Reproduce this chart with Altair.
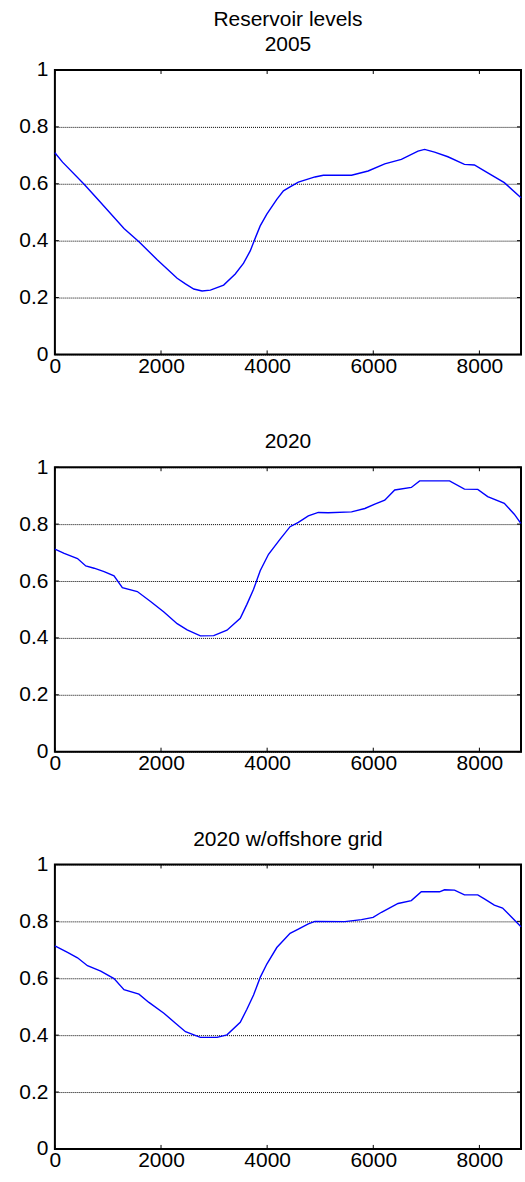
import altair as alt
import pandas as pd

# ---- data ----
hours_2005 = [0, 144, 551, 833, 1302, 1584, 1928, 2304, 2460, 2617, 2773, 2930, 3180, 3399,
              3556, 3681, 3756, 3869, 3994, 4182, 4307, 4432, 4588, 4901, 5058, 5590, 5903,
              6216, 6529, 6843, 6967, 7155, 7406, 7718, 7906, 8094, 8469, 8784]
level_2005 = [0.709, 0.676, 0.598, 0.540, 0.443, 0.396, 0.333, 0.268, 0.248, 0.230, 0.223,
              0.226, 0.244, 0.283, 0.321, 0.364, 0.400, 0.452, 0.493, 0.545, 0.575, 0.589,
              0.606, 0.624, 0.630, 0.630, 0.645, 0.670, 0.686, 0.715, 0.721, 0.711, 0.695,
              0.668, 0.666, 0.645, 0.604, 0.551]

hours_2020 = [0, 175, 426, 582, 739, 927, 1114, 1271, 1553, 1803, 2054, 2304, 2492, 2742,
              2993, 3243, 3493, 3618, 3744, 3869, 4026, 4245, 4432, 4588, 4776, 4964, 5152,
              5590, 5841, 6029, 6216, 6404, 6717, 6874, 7093, 7437, 7718, 7969, 8156, 8469,
              8657, 8784]
level_2020 = [0.712, 0.697, 0.679, 0.653, 0.645, 0.633, 0.618, 0.577, 0.563, 0.528, 0.491,
              0.450, 0.428, 0.407, 0.408, 0.427, 0.469, 0.518, 0.571, 0.636, 0.694, 0.747,
              0.791, 0.806, 0.829, 0.841, 0.840, 0.843, 0.855, 0.870, 0.884, 0.920, 0.929,
              0.952, 0.952, 0.952, 0.923, 0.922, 0.897, 0.873, 0.835, 0.802]

hours_off = [0, 238, 426, 614, 864, 1114, 1302, 1584, 1772, 2054, 2273, 2461, 2742, 3055,
             3243, 3493, 3618, 3744, 3869, 3994, 4182, 4432, 4588, 4776, 4901, 5465, 5778,
             5997, 6154, 6467, 6717, 6905, 7249, 7343, 7531, 7718, 7969, 8094, 8281, 8437,
             8784]
level_off = [0.714, 0.691, 0.672, 0.644, 0.625, 0.599, 0.560, 0.544, 0.515, 0.477, 0.442,
             0.412, 0.392, 0.392, 0.401, 0.445, 0.491, 0.541, 0.603, 0.650, 0.708, 0.758,
             0.773, 0.791, 0.800, 0.799, 0.806, 0.814, 0.832, 0.863, 0.873, 0.904, 0.904,
             0.911, 0.910, 0.893, 0.893, 0.879, 0.857, 0.847, 0.781]

titles = [["Reservoir levels", "2005"], "2020", "2020 w/offshore grid"]
x_ticks = [0, 2000, 4000, 6000, 8000]
y_ticks = [0, 0.2, 0.4, 0.6, 0.8, 1.0]
x_max = 8784

W, H = 467, 285
FONT = "Liberation Sans"
TL = 4  # inward tick length

XSCALE = alt.Scale(domain=[0, x_max], nice=False, zero=False)
YSCALE = alt.Scale(domain=[0, 1], nice=False)
XAXIS = alt.Axis(values=x_ticks, format="d", grid=False, ticks=False, domain=False,
                 title=None, labelPadding=1, labelFlush=False)
YAXIS = alt.Axis(values=y_ticks, format="~g", grid=True, ticks=False, domain=False,
                 title=None, labelPadding=7, gridColor="black", gridDash=[1, 1],
                 gridOpacity=1, gridWidth=1)


def panel(hours, levels, title):
    df = pd.DataFrame({"hour": hours, "level": levels})
    line = alt.Chart(df).mark_line(color="#0000ff", strokeWidth=1.4).encode(
        x=alt.X("hour:Q", scale=XSCALE, axis=XAXIS),
        y=alt.Y("level:Q", scale=YSCALE, axis=YAXIS),
    )
    xt = pd.DataFrame({"hour": x_ticks})
    yt = pd.DataFrame({"level": y_ticks})
    xb = alt.Chart(xt).mark_rule(color="black", strokeWidth=1).encode(
        x=alt.X("hour:Q", scale=XSCALE, axis=XAXIS), y=alt.value(H), y2=alt.value(H - TL))
    xtop = alt.Chart(xt).mark_rule(color="black", strokeWidth=1).encode(
        x=alt.X("hour:Q", scale=XSCALE, axis=XAXIS), y=alt.value(0), y2=alt.value(TL))
    yl = alt.Chart(yt).mark_rule(color="black", strokeWidth=1).encode(
        y=alt.Y("level:Q", scale=YSCALE, axis=YAXIS), x=alt.value(0), x2=alt.value(TL))
    yr = alt.Chart(yt).mark_rule(color="black", strokeWidth=1).encode(
        y=alt.Y("level:Q", scale=YSCALE, axis=YAXIS), x=alt.value(W - TL), x2=alt.value(W))
    return alt.layer(line, xb, xtop, yl, yr).properties(
        width=W, height=H,
        title=alt.TitleParams(text=title, fontSize=21, font=FONT, fontWeight="normal",
                              color="black", anchor="middle", offset=4, lineHeight=25),
    )


chart = alt.vconcat(
    panel(hours_2005, level_2005, titles[0]),
    panel(hours_2020, level_2020, titles[1]),
    panel(hours_off, level_off, titles[2]),
    spacing=113,
    bounds="flush",
).properties(
    padding={"left": 17, "top": 7, "right": 0, "bottom": 2},
    background="white",
).configure_view(
    stroke="black", strokeWidth=2
).configure_axis(
    labelFont=FONT, labelFontSize=21, labelColor="black"
)

chart.save("out.html", embed_options={"renderer": "svg", "actions": False})
